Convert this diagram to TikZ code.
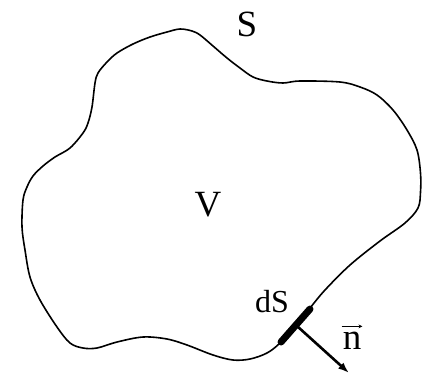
\documentclass[tikz,border=0pt]{standalone}
\usepackage{fontspec}
\setmainfont{Liberation Serif}
\usetikzlibrary{arrows.meta}
\begin{document}
\begin{tikzpicture}[x=1pt,y=-1pt,
  lbl/.style={inner sep=0pt,font=\fontsize{37}{37}\selectfont},
  surf/.style={line width=1.6pt,line join=round},
  normalarrow/.style={line width=2.6pt,-{Latex[length=11pt,width=8pt]}}]
\useasboundingbox (0,0) rectangle (422,373);
\fill[white] (0,0) rectangle (422,373);
\draw[surf] plot[smooth cycle,tension=0.55] coordinates {
(180,29) (192,31) (200,35) (213,46) (227,58) (240,68) (253,77) (267,81) (283,83) (300,81) (340,82) (360,87) (377,95) (393,110) (407,130) (417,150) (420.5,173) (420.5,192) (418,208) (405,223) (380,241) (350,265) (325,290) (310,308) (295,326) (280,343) (267,353) (250,359) (233,360) (213,355) (187,345) (167,339) (143,337) (117,342) (97,348) (83,348) (70,343) (57,327) (40,300) (30,277) (25,250) (22,227) (23,200) (27,187) (33,176) (43,166) (55,157) (70,148) (83,133) (88,123) (92,107) (95,83) (98,73) (107,62) (117,53) (133,44) (150,37) (167,32)};
% surface element dS
\coordinate (ds1) at (281,342);
\coordinate (ds2) at (310,309);
\coordinate (foot) at (297,326);
\coordinate (tip) at (349,373);
\draw[line width=7pt,line cap=round] (ds1) -- (ds2);
\draw[normalarrow] (foot) -- (tip);
% labels
\node[lbl] (S) at (247,24) {S};
\node[lbl] (V) at (208,205) {V};
\node[lbl,font=\fontsize{32}{32}\selectfont] (dS) at (272,302) {dS};
\node[lbl,anchor=base] (n) at (352,349) {n};
\draw[line width=1.3pt,-{Stealth[length=4pt,width=4pt]}] ([xshift=-1pt,yshift=5pt]n.north west) -- ([xshift=1pt,yshift=5pt]n.north east);
\end{tikzpicture}
\end{document}
